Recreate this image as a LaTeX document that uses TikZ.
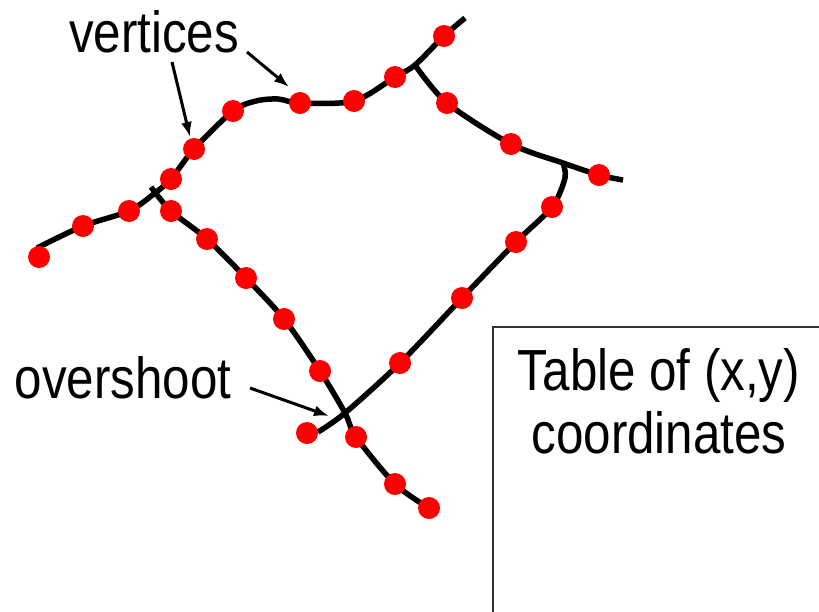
\documentclass[tikz,border=0pt]{standalone}
\usepackage{fontspec}
\setmainfont{Liberation Sans}[FakeStretch=0.85]
\usetikzlibrary{arrows.meta}
\tikzset{
  dot/.style={circle,fill=red,draw=none,inner sep=0pt,minimum size=22pt},
  curve/.style={line width=5.5pt,black},
  pointer/.style={line width=3pt,-{Latex[length=15pt,width=11pt]}},
  label/.style={inner sep=0pt,anchor=base,font=\fontsize{58}{63}\selectfont},
  tablebox/.style={line width=2.2pt,black!80}
}
\begin{document}
\begin{tikzpicture}[x=1pt,y=-1pt]
\useasboundingbox[fill=white] (0,0) rectangle (819,611);
% curve points
\coordinate (a0) at (37,248);
\coordinate (p1) at (83,226);
\coordinate (p2) at (129,211);
\coordinate (jL) at (155,193);
\coordinate (p3) at (171,179);
\coordinate (p4) at (194,149);
\coordinate (p5) at (233,111);
\coordinate (h1) at (256,101);
\coordinate (h3) at (278,99);
\coordinate (p6) at (300,103);
\coordinate (p7) at (354,101);
\coordinate (p8) at (395,77);
\coordinate (jT) at (415,65);
\coordinate (p9) at (444,36);
\coordinate (aE) at (465,18);
\coordinate (q1) at (447,103);
\coordinate (q2) at (511,144);
\coordinate (jR) at (563,163);
\coordinate (q3) at (599,175);
\coordinate (bE) at (623,180);
\coordinate (h2) at (565,178);
\coordinate (r1) at (552,207);
\coordinate (r2) at (516,242);
\coordinate (r3) at (462,298);
\coordinate (r4) at (400,363);
\coordinate (xx) at (345,413);
\coordinate (cE) at (318,432);
\coordinate (r5) at (307,433);
\coordinate (dS) at (151,187);
\coordinate (s1) at (171,211);
\coordinate (s2) at (207,239);
\coordinate (s3) at (246,278);
\coordinate (s4) at (284,319);
\coordinate (s5) at (320,371);
\coordinate (s6) at (356,437);
\coordinate (s7) at (395,484);
\coordinate (s8) at (429,508);
\coordinate (d0) at (39,257);
% lines
\draw[curve] plot[smooth,tension=0.5] coordinates {(a0) (p1) (p2) (jL) (p3) (p4) (p5) (h1) (h3) (p6) (p7) (p8) (jT) (p9) (aE)};
\draw[curve] plot[smooth,tension=0.5] coordinates {(jT) (q1) (q2) (jR) (q3) (bE)};
\draw[curve] plot[smooth,tension=0.5] coordinates {(jR) (h2) (r1) (r2) (r3) (r4) (xx) (cE)};
\draw[curve] plot[smooth,tension=0.5] coordinates {(dS) (s1) (s2) (s3) (s4) (s5) (xx) (s6) (s7) (s8)};
% vertices
\node[dot] (v0) at (d0) {};
\foreach \c in {p1,p2,p3,p4,p5,p6,p7,p8,p9,q1,q2,q3,r1,r2,r3,r4,r5,s1,s2,s3,s4,s5,s6,s7,s8}
  \node[dot] (v\c) at (\c) {};
% labels
\node[label] (vert) at (154,52) {vertices};
\node[label] (over) at (123,398) {overshoot};
\coordinate (va1) at (172,62);
\coordinate (vb1) at (190,137);
\coordinate (va2) at (247,52);
\coordinate (vb2) at (289,87);
\coordinate (oa) at (250,388);
\coordinate (ob) at (329,416);
\draw[pointer] (va1) -- (vb1);
\draw[pointer] (va2) -- (vb2);
\draw[pointer] (oa) -- (ob);
% table box
\draw[tablebox] (493,612) -- (493,327) -- (820,327);
\node[label,align=center] (tab) at (659,453) {Table of (x,y)\\coordinates};
\end{tikzpicture}
\end{document}
